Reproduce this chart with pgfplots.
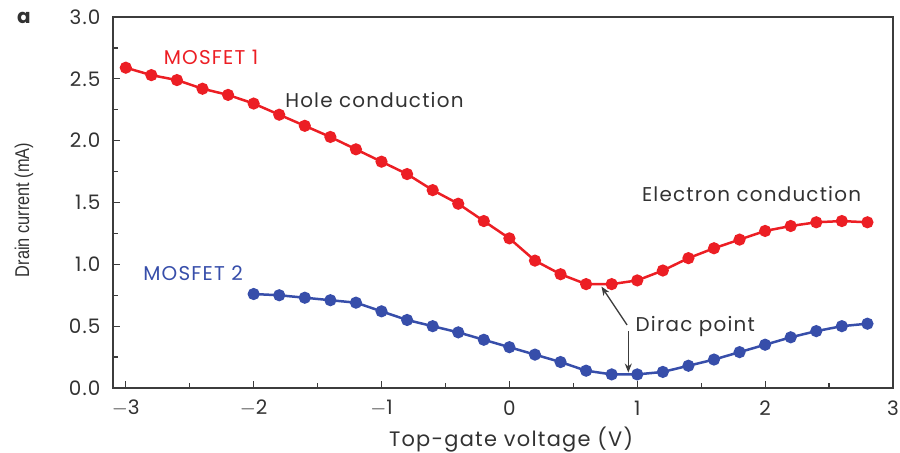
\documentclass[border=0pt]{standalone}
\usepackage{graphicx}
\usepackage{pgfplots}
\pgfplotsset{compat=1.18}
\usepackage{fontspec}
\setmainfont{Poppins}[LetterSpace=6]
\newfontfamily\labfont{Liberation Sans}
\usetikzlibrary{arrows.meta}
\definecolor{mred}{RGB}{236,30,36}
\definecolor{mblue}{RGB}{55,78,170}
\definecolor{axgray}{RGB}{60,60,60}
\definecolor{txtgray}{RGB}{50,50,50}
\begin{document}
\begin{tikzpicture}
\begin{axis}[
  name=ax, at={(0,0)}, anchor=south west,
  scale only axis, width=780bp, height=371bp,
  xmin=-3.1, xmax=3.0, ymin=0, ymax=3.0,
  axis line style={axgray, line width=1.2bp},
  every tick/.style={axgray, line width=1.2bp},
  tick align=inside,
  major tick length=7bp, minor tick length=5bp,
  xtick={-3,-2,-1,0,1,2,3},
  xticklabels={$-$3,$-$2,$-$1,0,1,2,3},
  minor xtick={-2.5,-1.5,-0.5,0.5,1.5,2.5},
  ytick={0,0.5,1,1.5,2,2.5,3},
  yticklabels={0.0,0.5,1.0,1.5,2.0,2.5,3.0},
  minor ytick={0.25,0.75,1.25,1.75,2.25,2.75},
  xtick pos=bottom, ytick pos=left,
  tick label style={font=\fontsize{20}{20}\selectfont, text=txtgray},
  xticklabel style={anchor=center, yshift=-20bp},
  yticklabel style={anchor=east, xshift=-9bp},
  xlabel={Top-gate voltage (V)},
  ylabel={\scalebox{0.82}[1]{\labfont Drain current (mA)}},
  xlabel style={font=\fontsize{21}{21}\selectfont, text=txtgray, at={(axis description cs:0.5103,-0.140)}, anchor=center},
  ylabel style={font=\fontsize{20}{20}\selectfont, text=txtgray, at={(axis description cs:-0.1141,0.48)}, anchor=center},
  clip=false,
]
\addplot[mred, line width=2.5bp, mark=*, mark size=4.8bp, mark options={fill=mred, draw=none}] coordinates {
(-3.0,2.59) (-2.8,2.53) (-2.6,2.49) (-2.4,2.42) (-2.2,2.37) (-2.0,2.30)
(-1.8,2.21) (-1.6,2.12) (-1.4,2.03) (-1.2,1.93) (-1.0,1.83) (-0.8,1.73)
(-0.6,1.60) (-0.4,1.49) (-0.2,1.35) (0.0,1.21) (0.2,1.03) (0.4,0.92)
(0.6,0.84) (0.8,0.84) (1.0,0.87) (1.2,0.95) (1.4,1.05) (1.6,1.13)
(1.8,1.20) (2.0,1.27) (2.2,1.31) (2.4,1.34) (2.6,1.35) (2.8,1.34)
};
\addplot[mblue, line width=2.5bp, mark=*, mark size=4.8bp, mark options={fill=mblue, draw=none}] coordinates {
(-2.0,0.76) (-1.8,0.75) (-1.6,0.73) (-1.4,0.71) (-1.2,0.69) (-1.0,0.62)
(-0.8,0.55) (-0.6,0.50) (-0.4,0.45) (-0.2,0.39) (0.0,0.33) (0.2,0.27)
(0.4,0.21) (0.6,0.14) (0.8,0.11) (1.0,0.11) (1.2,0.13) (1.4,0.18)
(1.6,0.23) (1.8,0.29) (2.0,0.35) (2.2,0.41) (2.4,0.46) (2.6,0.50)
(2.8,0.52)
};
\node[text=mred, font=\fontsize{20}{20}\selectfont, anchor=west] at (axis cs:-2.73,2.67) {MOSFET 1};
\node[text=txtgray, font=\fontsize{20}{20}\selectfont, anchor=west] at (axis cs:-1.78,2.33) {Hole conduction};
\node[text=txtgray, font=\fontsize{20}{20}\selectfont, anchor=west] at (axis cs:1.01,1.565) {Electron conduction};
\node[text=mblue, font=\fontsize{20}{20}\selectfont, anchor=west] at (axis cs:-2.89,0.925) {MOSFET 2};
\node[text=txtgray, font=\fontsize{20}{20}\selectfont, anchor=west] at (axis cs:0.96,0.50) {Dirac point};
\draw[-{Stealth[length=9bp,width=7bp]}, axgray, line width=1.3bp] (axis cs:0.92,0.51) -- (axis cs:0.72,0.82);
\draw[-{Stealth[length=9bp,width=7bp]}, axgray, line width=1.3bp] (axis cs:0.93,0.46) -- (axis cs:0.93,0.125);
\end{axis}
\node[font=\bfseries\fontsize{20}{20}\selectfont, text=txtgray] at ([shift={(-89bp,-1bp)}]ax.north west) {a};
\pgfresetboundingbox
\path ([shift={(-113bp,-65bp)}]ax.south west) rectangle ([shift={(7bp,17bp)}]ax.north east);
\end{tikzpicture}
\end{document}
